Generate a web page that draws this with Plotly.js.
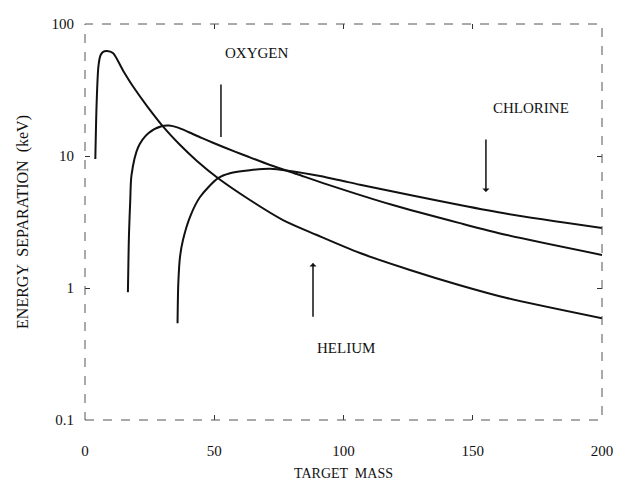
<!DOCTYPE html>
<html>
<head>
<meta charset="utf-8">
<script src="https://cdn.plot.ly/plotly-3.0.1.min.js"></script>
<style>html,body{margin:0;padding:0;background:#fff;}#chart{width:625px;height:489px;}</style>
</head>
<body>
<div id="chart"></div>
<script>
// Helium curve
const heliumMass = [4.0, 4.5, 5.2, 6.0, 7.0, 8.5, 10.8, 14.7, 18.6, 24.0, 30.9, 36.8, 43.3, 51.5, 63.8, 76.6, 89.7, 106.4, 125.7, 145.0, 163.2, 200.0];
const heliumE    = [9.5, 25, 48, 58, 61.5, 62.4, 60.3, 44.5, 33.6, 23.9, 16.1, 12.1, 9.17, 6.78, 4.64, 3.27, 2.52, 1.84, 1.37, 1.05, 0.84, 0.59];
// Oxygen curve
const oxygenMass = [16.6, 16.8, 17.0, 17.5, 18.0, 20.6, 24.5, 29.6, 32.5, 36.0, 40.0, 45.1, 49.5, 58.0, 62.7, 71.6, 81.9, 93.6, 119.1, 145.0, 163.2, 200.0];
const oxygenE    = [0.93, 1.6, 2.5, 4.6, 7.2, 11.7, 14.9, 16.8, 17.0, 16.4, 15.2, 13.7, 12.6, 10.8, 9.95, 8.55, 7.3, 6.1, 4.25, 3.1, 2.52, 1.78];
// Chlorine curve
const chlorineMass = [35.8, 36.1, 36.75, 37.9, 40.6, 44.5, 51.5, 56.1, 63.8, 71.6, 79.3, 90.9, 98.6, 106.4, 125.7, 145.0, 163.2, 200.0];
const chlorineE    = [0.54, 1.09, 1.72, 2.31, 3.45, 4.89, 6.8, 7.4, 7.8, 8.0, 7.7, 7.05, 6.55, 6.05, 5.07, 4.25, 3.65, 2.85];

// Ticks
const xTickVals = [0, 50, 100, 150, 200];
const xTickText = ["0", "50", "100", "150", "200"];
const yTickVals = [0.1, 1, 10, 100];
const yTickText = ["0.1", "1", "10", "100"];

// Curve labels
const labelNames = ["OXYGEN", "CHLORINE", "HELIUM"];
const labelX = [66.5, 172.5, 101];
const labelY = [60, 23.1, 0.35];
// Pointer arrows: x, tip y, tail y
const arrowX = [52.6, 155.1, 88.2];
const arrowTipY = [13.9, 5.33, 1.55];
const arrowTailY = [35.7, 13.7, 0.59];

const serif = "'Liberation Serif', 'Times New Roman', serif";
const ink = "#111";

const lineStyle = {color: ink, width: 2, shape: "spline", smoothing: 0.8};
const traces = [
  {x: heliumMass, y: heliumE, mode: "lines", name: "Helium", line: lineStyle},
  {x: oxygenMass, y: oxygenE, mode: "lines", name: "Oxygen", line: lineStyle},
  {x: chlorineMass, y: chlorineE, mode: "lines", name: "Chlorine", line: lineStyle}
];

const annotations = [];
for (let i = 0; i < labelNames.length; i++) {
  annotations.push({
    x: labelX[i], y: Math.log10(labelY[i]), xref: "x", yref: "y",
    text: labelNames[i], showarrow: false,
    font: {family: serif, size: 15, color: ink}
  });
  annotations.push({
    x: arrowX[i], y: Math.log10(arrowTipY[i]), xref: "x", yref: "y",
    ax: arrowX[i], ay: Math.log10(arrowTailY[i]), axref: "x", ayref: "y",
    text: "", showarrow: true, arrowhead: i === 0 ? 0 : 1, arrowsize: 0.8, arrowwidth: 1.5,
    arrowcolor: ink, standoff: 0, startstandoff: 0
  });
}

const layout = {
  width: 625, height: 489,
  margin: {l: 85, r: 23, t: 24, b: 69},
  paper_bgcolor: "#fff", plot_bgcolor: "#fff",
  showlegend: false,
  font: {family: serif, size: 14, color: ink},
  xaxis: {
    range: [0, 200], tickvals: xTickVals, ticktext: xTickText,
    ticks: "inside", ticklen: 5, tickcolor: "#333", mirror: "ticks",
    showgrid: false, zeroline: false, showline: false,
    ticklabelstandoff: 20,
    tickfont: {family: serif, size: 15, color: ink},
    title: {text: "TARGET  MASS", font: {family: serif, size: 14, color: ink}, standoff: 10}
  },
  yaxis: {
    type: "log", range: [-1, 2], tickvals: yTickVals, ticktext: yTickText,
    ticks: "inside", ticklen: 5, tickcolor: "#333", mirror: "ticks",
    showgrid: false, zeroline: false, showline: false,
    ticklabelstandoff: 10,
    tickfont: {family: serif, size: 15, color: ink},
    title: {text: "ENERGY  SEPARATION  (keV)", font: {family: serif, size: 16, color: ink}, standoff: 18}
  },
  shapes: [
    {type: "rect", xref: "paper", yref: "paper", x0: 0, x1: 1, y0: 0, y1: 1,
     line: {color: "#555", width: 1, dash: "dash"}}
  ],
  annotations: annotations
};

Plotly.newPlot("chart", traces, layout, {displayModeBar: false, staticPlot: true});
</script>
</body>
</html>
